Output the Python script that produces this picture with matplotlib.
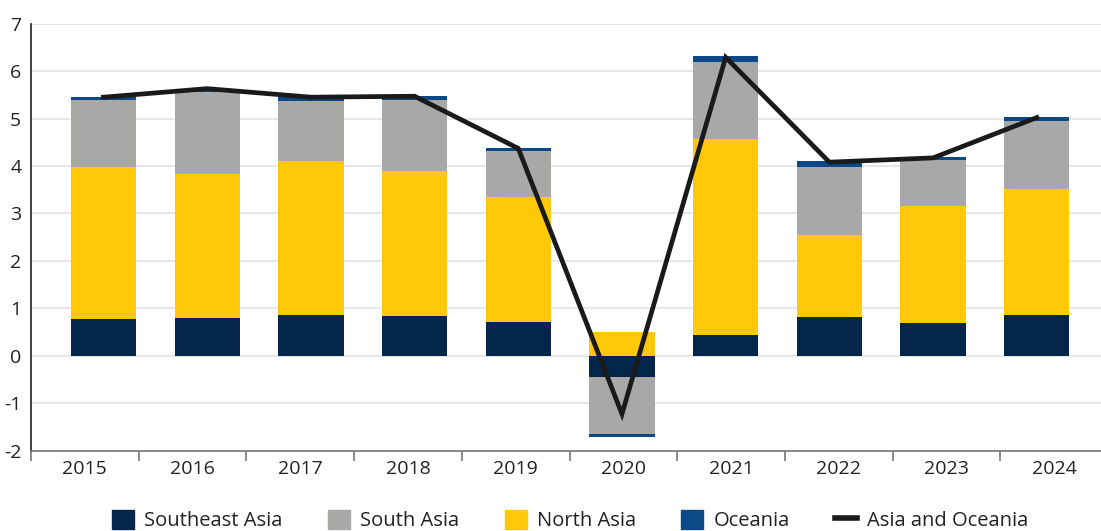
import numpy as np
import matplotlib.pyplot as plt
from matplotlib.patches import Patch
from matplotlib.lines import Line2D

plt.rcParams['font.family'] = ['Open Sans', 'DejaVu Sans']
plt.rcParams['axes.unicode_minus'] = False

# Données (contributions, points de %)
annees = ['2015', '2016', '2017', '2018', '2019', '2020', '2021', '2022', '2023', '2024']
asie_sud_est = [0.77, 0.79, 0.85, 0.83, 0.71, -0.46, 0.43, 0.81, 0.69, 0.85]
asie_sud = [1.42, 1.73, 1.27, 1.50, 0.97, -1.19, 1.63, 1.43, 0.97, 1.43]
asie_nord = [3.20, 3.04, 3.25, 3.06, 2.63, 0.50, 4.13, 1.73, 2.46, 2.66]
oceanie = [0.06, 0.06, 0.10, 0.08, 0.06, -0.06, 0.12, 0.13, 0.06, 0.09]
total = [5.45, 5.63, 5.45, 5.47, 4.37, -1.23, 6.29, 4.08, 4.17, 5.02]

# Couleurs
c_se = "#03264a"
c_s = "#a8a8a7"
c_n = "#ffc90a"
c_o = "#0b4a87"
c_ligne = "#1a1a1a"

fig = plt.figure(figsize=(11.01, 5.31), dpi=100)
ax = fig.add_axes([31 / 1101, 0.1516, 1077 / 1101, 0.8038])

x = np.arange(len(annees))
largeur = 0.63

# Empilement positif / négatif séparé (ordre visuel : SE, Nord, Sud, Océanie)
bas_pos = np.zeros(len(x))
bas_neg = np.zeros(len(x))
for serie, couleur in [(asie_sud_est, c_se), (asie_nord, c_n),
                       (asie_sud, c_s), (oceanie, c_o)]:
    v = np.array(serie)
    bas = np.where(v >= 0, bas_pos, bas_neg)
    ax.bar(x, v, largeur, bottom=bas, color=couleur, zorder=2)
    bas_pos += np.where(v >= 0, v, 0)
    bas_neg += np.where(v < 0, v, 0)

ax.plot(x, total, color=c_ligne, linewidth=3.4, zorder=3, solid_joinstyle='miter')

# Axes
x0, x1 = -0.699, 9.687
ax.set_xlim(x0, x1)
ax.set_ylim(-2, 7)
ax.set_yticks(range(-2, 8))
ax.yaxis.grid(True, color='#e3e3e3', linewidth=1.2, zorder=0)
ax.set_axisbelow(True)

bords = np.linspace(x0, x1, len(annees) + 1)
ax.set_xticks(bords)
ax.set_xticklabels([])
ax.set_xticks((bords[:-1] + bords[1:]) / 2, minor=True)
ax.set_xticklabels(annees, minor=True)
ax.tick_params(axis='x', which='major', length=7, width=1.2, color='#777777', direction='out')
ax.tick_params(axis='x', which='minor', length=0, pad=7, labelsize=14, labelcolor='#222222')
ax.tick_params(axis='y', length=0, pad=7, labelsize=14, labelcolor='#222222')

for s in ['top', 'right']:
    ax.spines[s].set_visible(False)
ax.spines['left'].set_color('#222222')
ax.spines['left'].set_linewidth(1.2)
ax.spines['bottom'].set_color('#777777')
ax.spines['bottom'].set_linewidth(1.2)

# Légende
poignees = [Patch(color=c_se, label='Southeast Asia'),
            Patch(color=c_s, label='South Asia'),
            Patch(color=c_n, label='North Asia'),
            Patch(color=c_o, label='Oceania'),
            Line2D([0], [0], color=c_ligne, linewidth=4, label='Asia and Oceania')]
fig.legend(handles=poignees, loc='center', bbox_to_anchor=(0.518, 0.02), ncol=5,
           frameon=False, fontsize=14.5, handlelength=1.1, handleheight=1.1,
           handletextpad=0.5, columnspacing=2.25, labelcolor='#222222')

plt.savefig('out.png', dpi=100)
